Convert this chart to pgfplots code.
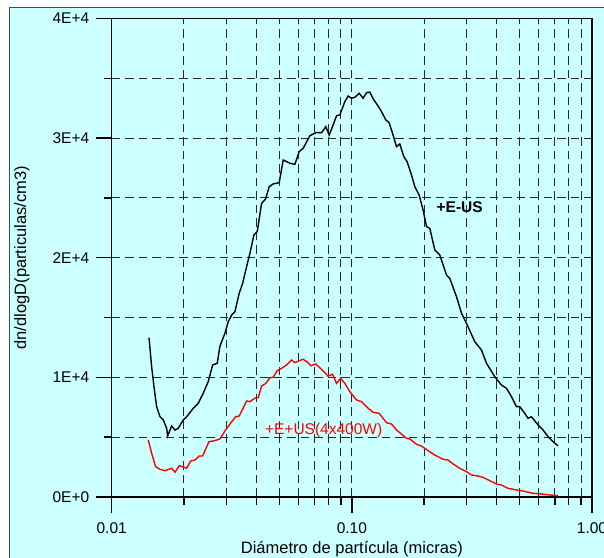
\documentclass[border=0pt]{standalone}
\usepackage{fontspec}
\setmainfont{Liberation Sans}
\usepackage{pgfplots}
\pgfplotsset{compat=1.18}
\definecolor{bgcyan}{RGB}{204,255,255}
\definecolor{bordergreen}{RGB}{50,90,50}
\definecolor{gridgray}{RGB}{40,40,40}
\newcommand{\tfont}{\fontsize{15.5bp}{18bp}\selectfont}
\newcommand{\lfont}{\fontsize{16.5bp}{19bp}\selectfont}
\begin{document}
\begin{tikzpicture}
\useasboundingbox (0,0) rectangle (604bp,558bp);
\fill[bgcyan, draw=bordergreen, line width=1bp] (9bp,-10bp) rectangle (640bp,550bp);
\begin{axis}[
  at={(111.7bp,61bp)}, anchor=south west,
  scale only axis, width=480.3bp, height=478.5bp,
  xmode=log, xmin=0.01, xmax=1,
  ymin=0, ymax=40000,
  xtick={0.01,0.1,1}, xticklabels={0.01,0.10,1.00},
  ytick={0,10000,20000,30000,40000},
  yticklabels={0E+0,1E+4,2E+4,3E+4,4E+4},
  minor ytick={5000,15000,25000,35000},
  scaled y ticks=false,
  /pgf/number format/assume math mode=true,
  tick align=outside, xtick pos=left, ytick pos=left,
  major tick length=16bp, minor tick length=8bp,
  every tick/.style={black, line width=1.4bp},
  axis line style={black, line width=1.5bp},
  grid=both,
  major grid style={gridgray, line width=1bp, dash pattern=on 8.5bp off 5bp},
  minor grid style={gridgray, line width=1bp, dash pattern=on 8.5bp off 5bp},
  tick label style={font=\tfont},
  xticklabel style={yshift=-6bp},
  yticklabel style={xshift=-3bp},
  xlabel={Diámetro de partícula (micras)},
  ylabel={dn/dlogD(particulas/cm3)},
  label style={font=\lfont},
  xlabel style={at={(axis description cs:0.5,-0.1087)}, anchor=center},
  ylabel style={at={(axis description cs:-0.187,0.5)}, anchor=center},
  clip=false,
]
\addplot[black, line width=1.4bp] coordinates {
(0.01430,13320) (0.01467,10890) (0.01500,9220) (0.01539,7550) (0.01589,6710)
(0.01640,6440) (0.01694,5740) (0.01710,5100) (0.01777,5935) (0.01834,5600)
(0.01893,5740) (0.01986,6440) (0.02052,6710) (0.02186,7415) (0.02293,7830)
(0.02405,8670) (0.02523,9640) (0.02632,11035) (0.02751,11180) (0.02823,12600)
(0.02961,13685) (0.03057,14655) (0.03158,15215) (0.03259,15490) (0.03396,17030)
(0.03509,17865) (0.03646,19250) (0.03763,20370) (0.03910,21900) (0.04036,22180)
(0.04210,24550) (0.04374,24910) (0.04528,25940) (0.04705,26170) (0.04983,26275)
(0.05178,28170) (0.05521,27900) (0.05792,27810) (0.06036,28870) (0.06271,29150)
(0.06687,30200) (0.07103,30470) (0.07480,30450) (0.07795,30960) (0.08045,30260)
(0.08360,31100) (0.08637,31880) (0.08914,31935) (0.09351,33050) (0.09652,33520)
(0.09971,33330) (0.10292,33410) (0.10724,33750) (0.11143,33330) (0.11512,33810)
(0.11883,33840) (0.12347,33190) (0.12867,32690) (0.13293,32210) (0.13852,31520)
(0.14297,31290) (0.14771,30400) (0.15348,29290) (0.15840,29510) (0.16460,28450)
(0.16989,28030) (0.17719,26920) (0.18290,25940) (0.19059,25250) (0.19803,23990)
(0.20460,22600) (0.21115,22460) (0.22152,20650) (0.23239,20230) (0.24779,18560)
(0.25575,18280) (0.27271,16750) (0.28611,15360) (0.30015,14520) (0.32500,12980)
(0.34655,12290) (0.36356,11180) (0.39363,10060) (0.41974,9360) (0.44034,9090)
(0.46200,8390) (0.48468,7550) (0.50025,7550) (0.52481,6995) (0.54166,6580)
(0.55961,6710) (0.59612,6020) (0.62538,5600) (0.65605,5040) (0.68830,4620)
(0.72200,4280)
};
\addplot[red, line width=1.4bp] coordinates {
(0.01420,4765) (0.01467,3650) (0.01524,2530) (0.01589,2315) (0.01666,2200)
(0.01777,2400) (0.01834,2065) (0.01911,2620) (0.01975,2530) (0.02052,2400)
(0.02132,3010) (0.02222,3090) (0.02315,3430) (0.02392,3430) (0.02540,4620)
(0.02691,4710) (0.02823,4850) (0.02961,5520) (0.03086,6020) (0.03281,6710)
(0.03396,6770) (0.03646,8030) (0.03763,7970) (0.03974,8300) (0.04075,8300)
(0.04210,9280) (0.04387,9500) (0.04558,9970) (0.04705,10010) (0.04888,10560)
(0.05099,10760) (0.05349,11035) (0.05611,11450) (0.05792,11230) (0.06036,11395)
(0.06271,11510) (0.06540,11260) (0.06752,10975) (0.07083,11120) (0.07431,10720)
(0.07969,10100) (0.08312,10260) (0.08637,9500) (0.08975,9920) (0.09351,9500)
(0.09810,8800) (0.10461,8110) (0.10974,7970) (0.11690,7415) (0.12264,7080)
(0.12990,6995) (0.13945,6210) (0.14630,6100) (0.15348,5600) (0.16100,5265)
(0.16890,4905) (0.17434,4850) (0.18589,4405) (0.19503,4260) (0.20775,3870)
(0.22152,3510) (0.23984,3150) (0.25162,3090) (0.26398,2760) (0.28145,2400)
(0.30015,2115) (0.31490,1840) (0.33543,1755) (0.35189,1645) (0.37524,1360)
(0.40012,1090) (0.41974,1000) (0.44717,725) (0.48468,585) (0.51634,500)
(0.56825,310) (0.61579,250) (0.66675,170) (0.72200,110)
};
\node[font=\tfont\bfseries, black, anchor=center, inner sep=0pt] at (axis cs:0.2813,24240) {+E-US};
\node[font=\tfont, red, anchor=west, inner sep=0pt] at (axis cs:0.04345,5600) {+E+US(4x400W)};
\end{axis}
\end{tikzpicture}
\end{document}
